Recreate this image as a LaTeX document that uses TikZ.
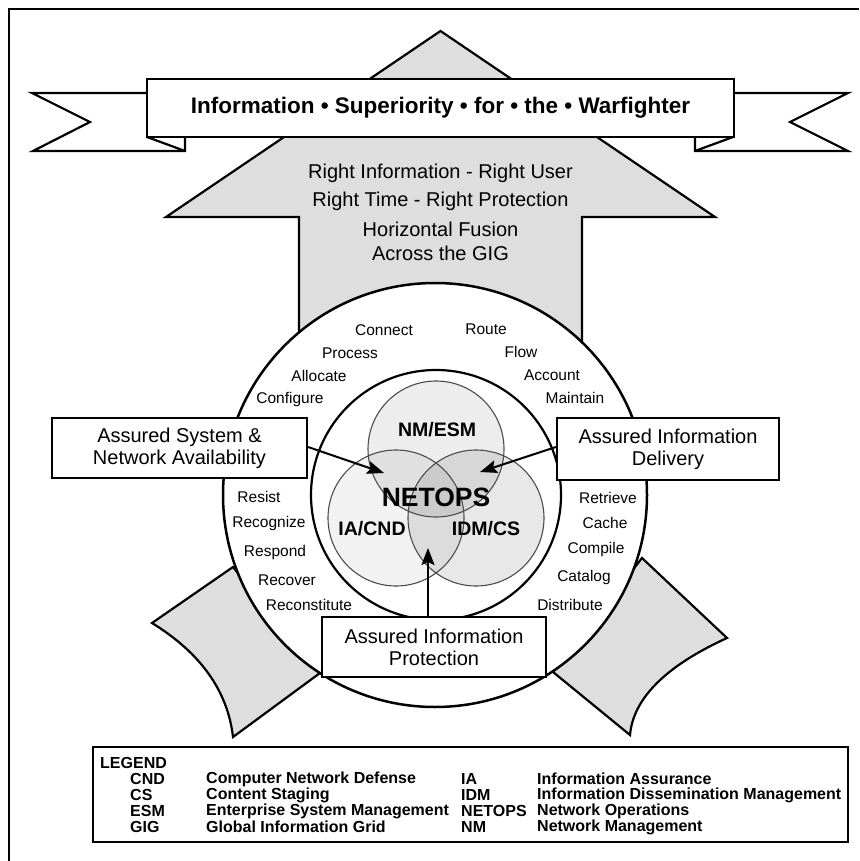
\documentclass[tikz,border=0pt]{standalone}
\usepackage{fontspec}
\setmainfont{Liberation Sans}
\usetikzlibrary{arrows.meta}
\definecolor{panelgray}{gray}{0.87}
\tikzset{
  thickline/.style={line width=2.2pt, line join=miter},
  grayshape/.style={thickline, fill=panelgray},
  ringword/.style={font=\fontsize{15.5}{18}\selectfont, inner sep=0pt},
  goalline/.style={font=\fontsize{20}{22}\selectfont, inner sep=0pt},
  assurebox/.style={draw, thickline, fill=white, align=center, inner sep=0pt,
    font=\fontsize{20}{22}\selectfont},
  vennlabel/.style={font=\bfseries\fontsize{19.5}{21}\selectfont, inner sep=0pt},
  venncircle/.style={draw=black!70, line width=1.1pt},
  pointer/.style={line width=2pt, -{Stealth[length=17pt, width=13pt, inset=3pt]}},
  legendtxt/.style={font=\bfseries\fontsize{16}{16}\selectfont, inner sep=0pt, anchor=west}
}
\begin{document}
\begin{tikzpicture}[x=1pt, y=-1pt]
\useasboundingbox (0,0) rectangle (859,861);
% page frame
\draw[line width=2.4pt] (9,861) -- (9,9) -- (859,9);

% ribbon tails behind the banner
\filldraw[thickline, fill=white] (147,93) -- (32,93) -- (90,122) -- (33,151) -- (185,151) -- (185,137) -- cycle;
\draw[thickline] (147,137) -- (185,151);
\filldraw[thickline, fill=white] (733,93) -- (848,93) -- (790,122) -- (848,151) -- (695,151) -- (695,137) -- cycle;
\draw[thickline] (733,137) -- (695,151);

% large upward arrow
\filldraw[grayshape] (440.5,31) -- (715,217) -- (582,217) -- (582,420) -- (299,420) -- (299,217) -- (166,217) -- cycle;

% side pieces behind the outer ring
\filldraw[grayshape] (233,567) -- (152,623) .. controls (200.7,653) and (227.7,691) .. (233,737) -- (320,673) -- cycle;
\filldraw[grayshape] (642,558) -- (727,638) .. controls (665.7,666) and (633.3,698.3) .. (630,735) -- (553,672) -- cycle;

% banner
\node[draw, thickline, fill=white, minimum width=587pt, minimum height=58pt, inner sep=0pt,
  font=\bfseries\fontsize{22.5}{24}\selectfont] (banner) at (440.5,108)
  {Information • Superiority • for • the • Warfighter};

% goal statements
\node[goalline] (g1) at (440.5,173) {Right Information - Right User};
\node[goalline] (g2) at (440.5,201) {Right Time - Right Protection};
\node[goalline] (g3) at (440.5,229) {Horizontal Fusion};
\node[goalline] (g4) at (440.5,253) {Across the GIG};

% outer and inner rings
\filldraw[line width=2.5pt, fill=white] (435,495) circle (212pt);
\filldraw[line width=2.2pt, fill=white] (436,495) circle (125pt);

% Venn diagram
\fill[black, fill opacity=0.07] (436,449) circle (68pt);
\fill[black, fill opacity=0.05] (396,518) circle (68pt);
\fill[black, fill opacity=0.09] (476,518) circle (68pt);
\draw[venncircle] (436,449) circle (68pt);
\draw[venncircle] (396,518) circle (68pt);
\draw[venncircle] (476,518) circle (68pt);
\node[vennlabel] (nm) at (437,430) {NM/ESM};
\node[vennlabel] (ia) at (372,529) {IA/CND};
\node[vennlabel] (idm) at (486,529) {IDM/CS};
\node[font=\bfseries\fontsize{26.5}{28}\selectfont, inner sep=0pt] (netops) at (436,497) {NETOPS};

% activities around the ring
\node[ringword] (w1) at (384,330) {Connect};
\node[ringword] (w2) at (486,329) {Route};
\node[ringword] (w3) at (350,353) {Process};
\node[ringword] (w4) at (521,352) {Flow};
\node[ringword] (w5) at (319,376) {Allocate};
\node[ringword] (w6) at (552,375) {Account};
\node[ringword] (w7) at (290,399) {Configure};
\node[ringword] (w8) at (575,398) {Maintain};
\node[ringword] (w9) at (259,497) {Resist};
\node[ringword] (w10) at (269,523) {Recognize};
\node[ringword] (w11) at (275,552) {Respond};
\node[ringword] (w12) at (287,580) {Recover};
\node[ringword] (w13) at (309,605) {Reconstitute};
\node[ringword] (w14) at (608,498) {Retrieve};
\node[ringword] (w15) at (605,523) {Cache};
\node[ringword] (w16) at (596,549) {Compile};
\node[ringword] (w17) at (584,577) {Catalog};
\node[ringword] (w18) at (570,605) {Distribute};

% assurance boxes and pointers
\node[assurebox, minimum width=255pt, minimum height=60pt] (asna) at (179.5,448)
  {Assured System \&\\Network Availability};
\node[assurebox, minimum width=222pt, minimum height=62pt] (aid) at (668,449)
  {Assured Information\\Delivery};
\node[assurebox, minimum width=224pt, minimum height=60pt] (aip) at (434,647)
  {Assured Information\\Protection};
\coordinate (tipL) at (384,473);
\coordinate (tipR) at (480,472);
\coordinate (tipB) at (428,548);
\draw[pointer] (asna.east |- 0,447) -- (tipL);
\draw[pointer] (aid.west |- 0,447) -- (tipR);
\draw[pointer] (aip.north -| tipB) -- (tipB);

% legend
\draw[line width=2.4pt] (93,747) rectangle (848,842);
\node[legendtxt] (lg) at (100,763) {LEGEND};
\node[legendtxt] (a1) at (130,779) {CND};
\node[legendtxt] (a2) at (130,795) {CS};
\node[legendtxt] (a3) at (130,811) {ESM};
\node[legendtxt] (a4) at (130,827) {GIG};
\node[legendtxt] (d1) at (206,779) {Computer Network Defense};
\node[legendtxt] (d2) at (206,795) {Content Staging};
\node[legendtxt] (d3) at (206,811) {Enterprise System Management};
\node[legendtxt] (d4) at (206,827) {Global Information Grid};
\node[legendtxt] (b1) at (461,779) {IA};
\node[legendtxt] (b2) at (461,795) {IDM};
\node[legendtxt] (b3) at (461,811) {NETOPS};
\node[legendtxt] (b4) at (461,827) {NM};
\node[legendtxt] (e1) at (537,779) {Information Assurance};
\node[legendtxt] (e2) at (537,795) {Information Dissemination Management};
\node[legendtxt] (e3) at (537,811) {Network Operations};
\node[legendtxt] (e4) at (537,827) {Network Management};
\end{tikzpicture}
\end{document}
